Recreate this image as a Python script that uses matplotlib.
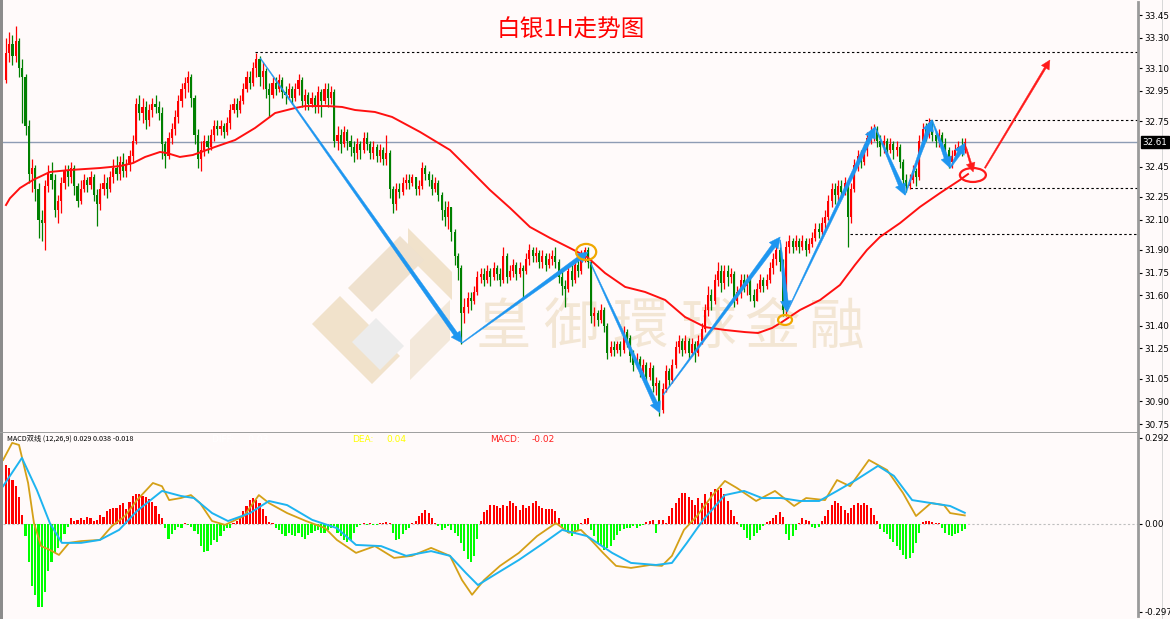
import numpy as np
import matplotlib
matplotlib.use('Agg')
import matplotlib.pyplot as plt
from matplotlib.patches import Ellipse, Polygon, Rectangle

plt.rcParams['font.family'] = ['Noto Sans CJK SC', 'DejaVu Sans']

# ---------------- data ----------------
open0 = 33.02
closes = [
    33.20, 33.26, 33.18, 33.28, 33.10, 33.04, 32.72, 32.40, 32.44, 32.30,
    32.10, 32.08, 32.32, 32.40, 32.36, 32.16, 32.22, 32.34, 32.42, 32.38,
    32.44, 32.32, 32.22, 32.30, 32.36, 32.33, 32.38, 32.26, 32.20, 32.30,
    32.34, 32.30, 32.38, 32.44, 32.40, 32.48, 32.42, 32.46, 32.52, 32.62,
    32.86, 32.80, 32.84, 32.76, 32.82, 32.86, 32.84, 32.80, 32.60, 32.52,
    32.64, 32.70, 32.78, 32.88, 32.96, 33.00, 33.04, 32.90, 32.66, 32.50,
    32.56, 32.62, 32.58, 32.66, 32.72, 32.70, 32.72, 32.68, 32.74, 32.82,
    32.86, 32.82, 32.88, 32.96, 33.04, 33.00, 33.10, 33.16, 33.04, 33.08,
    32.96, 32.92, 33.00, 32.96, 33.02, 32.94, 32.92, 32.96, 32.90, 32.96,
    33.02, 32.88, 32.92, 32.86, 32.90, 32.84, 32.94, 32.88, 32.96, 32.90,
    32.94, 32.62, 32.66, 32.60, 32.68, 32.62, 32.58, 32.54, 32.60, 32.56,
    32.64, 32.60, 32.54, 32.58, 32.52, 32.56, 32.50, 32.54, 32.30, 32.20,
    32.30, 32.28, 32.34, 32.36, 32.34, 32.38, 32.30, 32.32, 32.44, 32.40,
    32.36, 32.30, 32.34, 32.26, 32.16, 32.12, 32.18, 32.02, 31.86, 31.78,
    31.48, 31.52, 31.58, 31.56, 31.62, 31.72, 31.74, 31.70, 31.76, 31.72,
    31.78, 31.74, 31.70, 31.86, 31.72, 31.76, 31.80, 31.74, 31.78, 31.76,
    31.84, 31.90, 31.86, 31.88, 31.82, 31.86, 31.80, 31.84, 31.86, 31.82,
    31.72, 31.66, 31.64, 31.76, 31.70, 31.80, 31.76, 31.86, 31.90, 31.82,
    31.46, 31.48, 31.44, 31.50, 31.40, 31.22, 31.26, 31.24, 31.28, 31.24,
    31.36, 31.32, 31.20, 31.14, 31.18, 31.10, 31.14, 31.06, 31.12, 31.00,
    31.02, 30.84, 30.98, 31.10, 31.04, 31.14, 31.26, 31.30, 31.24, 31.30,
    31.22, 31.28, 31.22, 31.30, 31.38, 31.50, 31.60, 31.56, 31.70, 31.76,
    31.68, 31.76, 31.72, 31.74, 31.56, 31.62, 31.70, 31.66, 31.70, 31.60,
    31.56, 31.64, 31.70, 31.66, 31.70, 31.78, 31.84, 31.90, 31.82, 31.50,
    31.92, 31.96, 31.92, 31.96, 31.92, 31.96, 31.90, 31.94, 31.98, 32.04,
    32.02, 32.08, 32.12, 32.22, 32.30, 32.26, 32.32, 32.28, 32.34, 32.12,
    32.30, 32.46, 32.52, 32.48, 32.56, 32.64, 32.68, 32.70, 32.62, 32.58,
    32.62, 32.56, 32.60, 32.56, 32.58, 32.48, 32.36, 32.32, 32.36, 32.42,
    32.38, 32.62, 32.70, 32.66, 32.74, 32.66, 32.62, 32.66, 32.60, 32.56,
    32.48, 32.52, 32.56, 32.58, 32.56, 32.61,
]
highs = [
    33.30, 33.34, 33.32, 33.38, 33.30, 33.16, 33.06, 32.76, 32.50, 32.46,
    32.34, 32.16, 32.36, 32.46, 32.48, 32.40, 32.26, 32.38, 32.46, 32.46,
    32.48, 32.46, 32.34, 32.36, 32.40, 32.38, 32.42, 32.40, 32.30, 32.34,
    32.40, 32.38, 32.42, 32.50, 32.52, 32.52, 32.54, 32.50, 32.56, 32.66,
    32.90, 32.92, 32.90, 32.88, 32.86, 32.90, 32.92, 32.88, 32.84, 32.62,
    32.68, 32.74, 32.82, 32.92, 33.00, 33.04, 33.08, 33.06, 32.92, 32.70,
    32.62, 32.66, 32.66, 32.70, 32.76, 32.76, 32.76, 32.74, 32.78, 32.86,
    32.90, 32.90, 32.92, 33.00, 33.08, 33.08, 33.14, 33.20, 33.18, 33.14,
    33.10, 33.00, 33.04, 33.04, 33.06, 33.04, 32.98, 33.00, 32.98, 33.00,
    33.06, 33.04, 32.96, 32.94, 32.94, 32.92, 32.98, 32.96, 33.00, 33.00,
    32.98, 32.96, 32.72, 32.70, 32.72, 32.70, 32.66, 32.62, 32.64, 32.62,
    32.68, 32.68, 32.62, 32.62, 32.60, 32.60, 32.58, 32.66, 32.56, 32.32,
    32.34, 32.34, 32.38, 32.40, 32.40, 32.40, 32.38, 32.36, 32.48, 32.46,
    32.42, 32.40, 32.38, 32.36, 32.28, 32.22, 32.22, 32.18, 32.04, 31.88,
    31.80, 31.58, 31.62, 31.62, 31.66, 31.76, 31.78, 31.78, 31.80, 31.78,
    31.82, 31.80, 31.78, 31.92, 31.88, 31.80, 31.84, 31.82, 31.82, 31.80,
    31.88, 31.94, 31.92, 31.92, 31.90, 31.90, 31.88, 31.88, 31.90, 31.92,
    31.84, 31.76, 31.70, 31.80, 31.80, 31.84, 31.84, 31.90, 31.92, 31.92,
    31.84, 31.52, 31.50, 31.54, 31.52, 31.42, 31.30, 31.30, 31.30, 31.30,
    31.40, 31.38, 31.34, 31.24, 31.22, 31.20, 31.18, 31.16, 31.16, 31.14,
    31.06, 31.04, 31.02, 31.14, 31.12, 31.18, 31.30, 31.34, 31.32, 31.34,
    31.32, 31.32, 31.30, 31.34, 31.42, 31.54, 31.66, 31.64, 31.74, 31.82,
    31.80, 31.80, 31.80, 31.78, 31.76, 31.66, 31.74, 31.74, 31.74, 31.72,
    31.64, 31.68, 31.74, 31.72, 31.74, 31.82, 31.88, 31.94, 31.92, 31.84,
    31.96, 32.00, 31.98, 32.00, 31.98, 32.00, 31.98, 31.98, 32.02, 32.08,
    32.08, 32.12, 32.16, 32.26, 32.34, 32.34, 32.36, 32.36, 32.38, 32.36,
    32.34, 32.50, 32.56, 32.56, 32.60, 32.68, 32.72, 32.73, 32.72, 32.66,
    32.66, 32.64, 32.64, 32.62, 32.62, 32.60, 32.50, 32.40, 32.40, 32.46,
    32.44, 32.66, 32.74, 32.74, 32.77, 32.76, 32.68, 32.70, 32.68, 32.64,
    32.58, 32.56, 32.60, 32.62, 32.64, 32.64,
]
lows = [
    33.00, 33.14, 33.12, 33.14, 33.04, 32.74, 32.66, 32.34, 32.28, 32.22,
    31.98, 31.96, 31.90, 32.28, 32.30, 32.12, 32.08, 32.14, 32.30, 32.32,
    32.34, 32.26, 32.18, 32.20, 32.28, 32.28, 32.30, 32.22, 32.06, 32.16,
    32.26, 32.24, 32.28, 32.34, 32.36, 32.36, 32.38, 32.38, 32.42, 32.48,
    32.60, 32.76, 32.74, 32.70, 32.72, 32.78, 32.80, 32.76, 32.50, 32.44,
    32.50, 32.60, 32.66, 32.74, 32.84, 32.90, 32.94, 32.84, 32.60, 32.44,
    32.42, 32.52, 32.54, 32.56, 32.62, 32.66, 32.66, 32.64, 32.66, 32.70,
    32.80, 32.78, 32.80, 32.86, 32.94, 32.96, 32.98, 33.04, 32.98, 32.96,
    32.90, 32.78, 32.90, 32.92, 32.94, 32.90, 32.86, 32.90, 32.86, 32.88,
    32.92, 32.84, 32.82, 32.82, 32.84, 32.80, 32.80, 32.78, 32.86, 32.84,
    32.86, 32.58, 32.56, 32.54, 32.58, 32.56, 32.52, 32.48, 32.50, 32.50,
    32.54, 32.56, 32.50, 32.50, 32.48, 32.48, 32.46, 32.46, 32.24, 32.14,
    32.16, 32.24, 32.26, 32.30, 32.30, 32.32, 32.26, 32.26, 32.30, 32.36,
    32.32, 32.26, 32.28, 32.22, 32.10, 32.06, 32.04, 31.96, 31.80, 31.70,
    31.28, 31.42, 31.48, 31.50, 31.54, 31.60, 31.68, 31.66, 31.68, 31.66,
    31.70, 31.70, 31.66, 31.68, 31.68, 31.70, 31.72, 31.70, 31.72, 31.58,
    31.74, 31.80, 31.82, 31.82, 31.78, 31.78, 31.76, 31.78, 31.80, 31.78,
    31.68, 31.60, 31.52, 31.62, 31.66, 31.68, 31.72, 31.74, 31.82, 31.78,
    31.42, 31.40, 31.40, 31.42, 31.36, 31.18, 31.20, 31.20, 31.22, 31.20,
    31.22, 31.26, 31.16, 31.10, 31.12, 31.06, 31.06, 31.02, 31.04, 30.96,
    30.94, 30.80, 30.82, 30.96, 31.00, 31.02, 31.12, 31.22, 31.20, 31.22,
    31.18, 31.20, 31.16, 31.20, 31.28, 31.36, 31.46, 31.50, 31.54, 31.66,
    31.62, 31.64, 31.66, 31.68, 31.52, 31.54, 31.58, 31.62, 31.60, 31.56,
    31.52, 31.56, 31.62, 31.62, 31.64, 31.68, 31.74, 31.80, 31.76, 31.46,
    31.46, 31.88, 31.88, 31.90, 31.88, 31.90, 31.86, 31.88, 31.92, 31.96,
    31.98, 32.00, 32.04, 32.10, 32.18, 32.20, 32.22, 32.24, 32.26, 31.92,
    32.08, 32.28, 32.42, 32.44, 32.46, 32.52, 32.60, 32.62, 32.58, 32.52,
    32.54, 32.52, 32.54, 32.50, 32.52, 32.44, 32.30, 32.28, 32.30, 32.34,
    32.32, 32.36, 32.58, 32.62, 32.64, 32.62, 32.58, 32.58, 32.56, 32.50,
    32.44, 32.44, 32.50, 32.52, 32.52, 32.54,
]

# red moving average (bar index, price)
ma_idx = [0, 1.2, 4.3, 8.3, 13.5, 19.7, 28.9, 35.1, 39.1, 42.8, 47.4, 49.5, 53.5,
          57.5, 64.3, 70.5, 76.6, 82.8, 88.9, 92.0, 99.0, 103.4, 107.4, 113.5,
          118.8, 127.4, 136.6, 142.8, 148.9, 155.1, 161.2, 167.4, 173.5, 178.8,
          184.3, 190.5, 196.6, 202.8, 208.9, 215.1, 221.2, 227.4, 231.4, 235.7,
          238.8, 244.3, 250.5, 256.6, 261.2, 264.9, 268.9, 275.1, 281.2, 287.4,
          293.5, 296.0]
ma_val = [32.196, 32.24, 32.308, 32.361, 32.414, 32.427, 32.44, 32.453, 32.473,
          32.513, 32.546, 32.539, 32.513, 32.526, 32.579, 32.625, 32.704, 32.803,
          32.836, 32.849, 32.849, 32.843, 32.823, 32.81, 32.777, 32.678, 32.559,
          32.427, 32.295, 32.176, 32.051, 31.978, 31.912, 31.853, 31.747, 31.655,
          31.622, 31.569, 31.457, 31.39, 31.371, 31.357, 31.351, 31.384, 31.424,
          31.503, 31.569, 31.668, 31.80, 31.899, 31.985, 32.077, 32.183, 32.275,
          32.361, 32.40]

# MACD lines (bar index, value)
dif_idx = [-0.9, 1.9, 4.0, 6.8, 8.6, 10.8, 13.5, 16.3, 19.4, 23.1, 28.9, 32.6,
           36.6, 40.3, 45.2, 48.0, 50.2, 53.8, 56.9, 59.7, 63.4, 67.4, 73.2, 77.8,
           80.9, 86.5, 92.3, 98.2, 101.8, 107.7, 113.5, 119.4, 124.9, 130.8, 136.6,
           140.3, 143.4, 147.1, 152.0, 157.8, 163.4, 169.2, 173.2, 176.9, 180.0,
           183.7, 187.7, 192.3, 198.2, 201.8, 204.9, 208.6, 212.6, 217.2, 221.2,
           224.9, 230.8, 236.6, 242.5, 246.2, 252.0, 255.7, 259.7, 265.5, 271.1,
           276.0, 280.0, 284.6, 288.6, 290.5, 295.0]
dif_val = [0.217, 0.275, 0.268, 0.139, 0.003, -0.075, -0.088, -0.105, -0.064,
           -0.058, -0.054, -0.007, 0.027, 0.081, 0.139, 0.128, 0.081, 0.088, 0.098,
           0.071, 0.01, -0.003, 0.027, 0.098, 0.071, 0.037, 0.01, -0.014, -0.054,
           -0.098, -0.075, -0.115, -0.108, -0.081, -0.108, -0.19, -0.24, -0.19,
           -0.142, -0.098, -0.041, 0.003, -0.03, -0.02, -0.054, -0.098, -0.142,
           -0.149, -0.139, -0.142, -0.108, -0.02, 0.027, 0.095, 0.146, 0.122,
           0.078, 0.112, 0.061, 0.088, 0.081, 0.149, 0.128, 0.217, 0.183, 0.105,
           0.027, 0.071, 0.064, 0.037, 0.029]
dea_idx = [-0.9, 4.9, 9.5, 13.5, 17.2, 23.1, 28.9, 34.8, 40.3, 48.0, 53.8, 57.8,
           63.4, 68.3, 75.1, 80.9, 86.5, 94.2, 101.8, 107.7, 115.4, 123.1, 130.8,
           136.6, 141.5, 145.2, 150.2, 157.8, 165.5, 171.1, 178.8, 186.5, 192.3,
           200.0, 204.9, 209.5, 214.5, 221.2, 227.1, 232.6, 238.5, 244.3, 250.2,
           255.7, 261.5, 268.3, 273.2, 278.8, 284.6, 290.5, 295.0]
dea_val = [0.128, 0.224, 0.115, 0.003, -0.064, -0.064, -0.054, -0.02, 0.044,
           0.112, 0.095, 0.088, 0.037, 0.01, 0.037, 0.078, 0.064, 0.014, -0.014,
           -0.071, -0.075, -0.108, -0.092, -0.108, -0.166, -0.207, -0.173, -0.122,
           -0.064, -0.02, -0.041, -0.098, -0.132, -0.139, -0.132, -0.064, 0.014,
           0.098, 0.112, 0.088, 0.088, 0.078, 0.078, 0.112, 0.149, 0.197, 0.163,
           0.081, 0.071, 0.061, 0.038]

macd_hist = [
    0.20, 0.19, 0.15, 0.13, 0.09, 0.03, -0.04, -0.13, -0.21, -0.24,
    -0.28, -0.28, -0.23, -0.16, -0.13, -0.10, -0.08, -0.06, -0.035, -0.01,
    0.02, 0.01, 0.015, 0.02, 0.012, 0.025, 0.02, 0.01, 0.015, 0.03,
    0.025, 0.045, 0.05, 0.055, 0.055, 0.065, 0.07, 0.05, 0.075, 0.095,
    0.10, 0.10, 0.095, 0.092, 0.085, 0.075, 0.06, 0.035, 0.02, -0.015,
    -0.05, -0.035, -0.02, -0.01, -0.015, 0.005, -0.005, -0.01, -0.025, -0.035,
    -0.075, -0.095, -0.09, -0.07, -0.055, -0.06, -0.04, -0.025, -0.015, -0.012,
    0.003, 0.01, 0.025, 0.045, 0.06, 0.08, 0.088, 0.082, 0.07, 0.05,
    0.026, 0.008, 0.002, -0.012, -0.02, -0.035, -0.042, -0.03, -0.036, -0.042,
    -0.03, -0.045, -0.05, -0.038, -0.03, -0.025, -0.02, -0.03, -0.03, -0.02,
    -0.014, -0.008, -0.03, -0.04, -0.053, -0.06, -0.053, -0.03, -0.01, -0.004,
    0.002, -0.002, 0.004, -0.004, -0.003, 0.003, 0.005, 0.008, 0.004, -0.03,
    -0.055, -0.05, -0.035, -0.022, -0.014, 0.004, 0.01, 0.026, 0.037, 0.046,
    0.038, 0.02, 0.005, -0.008, -0.02, -0.014, -0.008, -0.02, -0.03, -0.04,
    -0.065, -0.09, -0.12, -0.13, -0.11, -0.05, 0.01, 0.04, 0.048, 0.065,
    0.065, 0.06, 0.054, 0.065, 0.06, 0.077, 0.072, 0.06, 0.048, 0.065,
    0.054, 0.06, 0.072, 0.077, 0.06, 0.054, 0.05, 0.05, 0.05, 0.045,
    0.02, -0.01, -0.022, -0.03, -0.042, -0.03, -0.02, 0.005, 0.017, 0.02,
    -0.02, -0.042, -0.065, -0.076, -0.087, -0.082, -0.075, -0.053, -0.036, -0.025,
    -0.018, -0.013, -0.012, -0.007, -0.012, -0.008, -0.002, 0.008, 0.01, 0.012,
    -0.03, 0.012, 0.012, 0.005, 0.026, 0.054, 0.07, 0.088, 0.105, 0.105,
    0.093, 0.08, 0.065, 0.088, 0.072, 0.10, 0.07, 0.11, 0.12, 0.116,
    0.122, 0.10, 0.077, 0.048, 0.026, 0.007, -0.01, -0.02, -0.048, -0.053,
    -0.042, -0.03, -0.02, -0.008, 0.006, 0.01, 0.02, 0.032, 0.04, 0.025,
    -0.035, -0.053, -0.04, -0.02, 0.005, 0.02, 0.015, 0.01, -0.01, -0.014,
    -0.01, 0.01, 0.026, 0.048, 0.065, 0.077, 0.07, 0.06, 0.048, 0.037,
    0.055, 0.065, 0.07, 0.065, 0.07, 0.065, 0.054, 0.03, 0.01, -0.018,
    -0.026, -0.035, -0.05, -0.06, -0.075, -0.087, -0.105, -0.12, -0.115, -0.10,
    -0.065, -0.03, 0.006, 0.009, 0.01, 0.008, 0.005, 0.002, -0.015, -0.03,
    -0.036, -0.04, -0.033, -0.03, -0.025, -0.018,
]

price_ticks = [33.45, 33.30, 33.10, 32.95, 32.75, 32.45, 32.25, 32.10, 31.90,
               31.75, 31.60, 31.40, 31.25, 31.05, 30.90, 30.75]
price_tick_labels = ['33.45', '33.30', '33.10', '32.95', '32.75', '32.45', '32.25',
                     '32.10', '31.90', '31.75', '31.60', '31.40', '31.25', '31.05',
                     '30.90', '30.75']
last_price = 32.61
macd_ticks = [0.292, 0.0, -0.297]
macd_tick_labels = ['0.292', '0.00', '-0.297']

# support / resistance levels (price, starting bar)
levels = [(33.206, 76.6), (32.757, 282.8), (32.308, 278.2), (32.004, 259.7)]

# hand-drawn blue trend arrows (bar, price) -> (bar, price)
blue_arrows = [((78.2, 33.166), (140.3, 31.285)),
               ((140.3, 31.285), (179.1, 31.886)),
               ((179.7, 31.82), (201.2, 30.823)),
               ((202.2, 30.942), (238.2, 31.985)),
               ((238.2, 31.965), (240.3, 31.49)),
               ((240.3, 31.49), (267.4, 32.711)),
               ((267.4, 32.711), (276.6, 32.262)),
               ((276.6, 32.262), (284.9, 32.757)),
               ((284.9, 32.757), (290.5, 32.44)),
               ((290.5, 32.44), (295.1, 32.605))]
red_arrows = [((295.3, 32.579), (297.6, 32.414)),
              ((301.2, 32.44), (321.2, 33.153))]

# ---------------- figure ----------------
W, H = 1170, 619
DPI = 100
BG = '#FFFAFA'
fig = plt.figure(figsize=(W / DPI, H / DPI), dpi=DPI, facecolor=BG)


def px_rect(x0, y0, x1, y1):
    return [x0 / W, 1 - y1 / H, (x1 - x0) / W, (y1 - y0) / H]


ax = fig.add_axes(px_rect(3, 2, 1138, 431))
axm = fig.add_axes(px_rect(3, 433, 1138, 616))
for a in (ax, axm):
    a.set_facecolor(BG)
    a.set_xlim(-0.923, 348.3)
    a.set_xticks([])
    for s in ('left', 'top', 'bottom'):
        a.spines[s].set_visible(False)
    a.spines['right'].set_color('#9A9A9A')
    a.spines['right'].set_linewidth(2)
    a.yaxis.tick_right()
    a.tick_params(axis='y', direction='out', length=3, width=0.8,
                  labelsize=6.3, pad=1.5, colors='black')

ax.set_ylim(30.704, 33.536)
axm.set_ylim(-0.312, 0.3085)
ax.set_yticks(price_ticks)
ax.set_yticklabels(price_tick_labels, family='DejaVu Sans')
axm.set_yticks(macd_ticks)
axm.set_yticklabels(macd_tick_labels, family='DejaVu Sans')

# separators / frame bits
fig.patches.append(Rectangle((0, 0), 3 / W, 1, transform=fig.transFigure,
                             facecolor='#8C8C8C', edgecolor='none', zorder=-1))
fig.patches.append(Rectangle((0, 1 - 433 / H), 1138 / W, 1.2 / H,
                             transform=fig.transFigure, facecolor='#A0A0A0',
                             edgecolor='none', zorder=-1))
fig.patches.append(Rectangle((1162 / W, 0), 1.2 / W, 1, transform=fig.transFigure,
                             facecolor='#D8D8D8', edgecolor='none', zorder=-1))

# watermark
wm_color = '#F3E6D4'
for ch, cx in zip('皇御環球金融', [503, 571, 640, 708, 772, 836]):
    ax.text(cx / W, 1 - 328 / H, ch, transform=fig.transFigure, ha='center',
            va='center', fontsize=40, color=wm_color, zorder=0.5,
            family=['Noto Sans CJK TC', 'Noto Sans CJK SC'])
logo_polys = [
    [(408, 228), (452, 272), (452, 300), (408, 256)],
    [(400, 236), (348, 288), (372, 312), (424, 260)],
    [(340, 296), (312, 324), (372, 384), (400, 356)],
    [(376, 318), (352, 342), (380, 370), (404, 346)],
    [(410, 340), (450, 300), (450, 340), (410, 380)],
]
logo_cols = ['#F1E2CB', '#EFE1CE', '#F1E2CB', '#ECECEC', '#F3E8DA']
for pts, colr in zip(logo_polys, logo_cols):
    ax.add_patch(Polygon([(x / W, 1 - y / H) for x, y in pts], closed=True,
                         transform=fig.transFigure, facecolor=colr,
                         edgecolor='none', zorder=0.4))

# ---------------- candles ----------------
n = len(closes)
idx = np.arange(n)
c = np.array(closes)
o = np.concatenate([[open0], c[:-1]])
h = np.array(highs)
l = np.array(lows)
up = c >= o
cols = np.where(up, '#FF0000', '#008000')
ax.vlines(idx, l, h, colors=cols, linewidth=0.9, zorder=2)
body_b = np.minimum(o, c)
body_h = np.maximum(np.abs(c - o), 0.004)
ax.bar(idx, body_h, bottom=body_b, width=0.62, color=cols, linewidth=0, zorder=3)

ax.plot(ma_idx, ma_val, color='#FF1010', lw=1.4, zorder=4)

# last price line and levels
ax.axhline(last_price, color='#8E9CB4', lw=1.0, zorder=1)
for lv, start in levels:
    ax.plot([start, 348.3], [lv, lv], color='black', lw=0.8,
            linestyle=(0, (2.2, 2.2)), zorder=1.5)

# price label box
ax.text(1.004, last_price, '32.61', transform=ax.get_yaxis_transform(),
        ha='left', va='center', fontsize=6.3, color='white', family='DejaVu Sans',
        bbox=dict(boxstyle='square,pad=0.15', facecolor='black', edgecolor='black'),
        zorder=10, clip_on=False)

# title
fig.text(571 / W, 1 - 30 / H, '白银1H走势图', ha='center', va='center',
         fontsize=17, color='#FF0000')

# ---------------- annotations ----------------
fig.canvas.draw()


def taper_arrow(axis, p0, p1, color, w0=0.4, w1=2.2, hl=11, hw=5.5, z=6):
    tr = axis.transData
    a = np.array(tr.transform(p0))
    b = np.array(tr.transform(p1))
    d = b - a
    L = np.hypot(*d)
    u = d / L
    nrm = np.array([-u[1], u[0]])
    base = b - u * hl
    pts = [a + nrm * w0, base + nrm * w1, base + nrm * hw, b,
           base - nrm * hw, base - nrm * w1, a - nrm * w0]
    data_pts = tr.inverted().transform(np.array(pts))
    axis.add_patch(Polygon(data_pts, closed=True, facecolor=color,
                           edgecolor=color, lw=0.3, zorder=z, clip_on=False))


for p0, p1 in blue_arrows:
    taper_arrow(ax, p0, p1, '#1E96F0')
for p0, p1 in red_arrows:
    taper_arrow(ax, p0, p1, '#FF1A1A', w0=0.7, w1=1.0, hl=9, hw=4.5)

ax.add_patch(Ellipse((297.5, 32.394), 8.0, 0.092, facecolor='none',
                     edgecolor='#FF1A1A', lw=1.6, zorder=7))
ax.add_patch(Ellipse((178.5, 31.886), 6.2, 0.106, facecolor='none',
                     edgecolor='#F0A800', lw=1.6, zorder=7))
ax.add_patch(Ellipse((239.7, 31.437), 4.3, 0.066, facecolor='none',
                     edgecolor='#F0A800', lw=1.6, zorder=7))

# ---------------- MACD panel ----------------
hist = np.array(macd_hist)
hcols = np.where(hist >= 0, '#FF0000', '#00FF00')
axm.bar(idx, hist, width=0.62, color=hcols, linewidth=0, zorder=2)
axm.axhline(0, color='#BFBFBF', lw=0.8, linestyle=(0, (2, 2)), zorder=1)
axm.plot(dif_idx, dif_val, color='#D4A017', lw=1.3, zorder=3)
axm.plot(dea_idx, dea_val, color='#1EB4F0', lw=1.4, zorder=3)

fig.text(7 / W, 1 - 439 / H, 'MACD双线 (12,26,9) 0.029 0.038 -0.018',
         fontsize=5.2, color='black', ha='left', va='center')
fig.text(212 / W, 1 - 439 / H, 'DIFF:     0.03', fontsize=6.5, color='white',
         ha='left', va='center', family='DejaVu Sans')
fig.text(352 / W, 1 - 439 / H, 'DEA:', fontsize=6.5, color='#FFFF00',
         ha='left', va='center', family='DejaVu Sans')
fig.text(386 / W, 1 - 439 / H, '0.04', fontsize=6.5, color='#FFFF00',
         ha='left', va='center', family='DejaVu Sans')
fig.text(490 / W, 1 - 439 / H, 'MACD:', fontsize=6.5, color='#FF2020',
         ha='left', va='center', family='DejaVu Sans')
fig.text(532 / W, 1 - 439 / H, '-0.02', fontsize=6.5, color='#FF2020',
         ha='left', va='center', family='DejaVu Sans')

fig.savefig('out.png', dpi=DPI, facecolor=BG)
